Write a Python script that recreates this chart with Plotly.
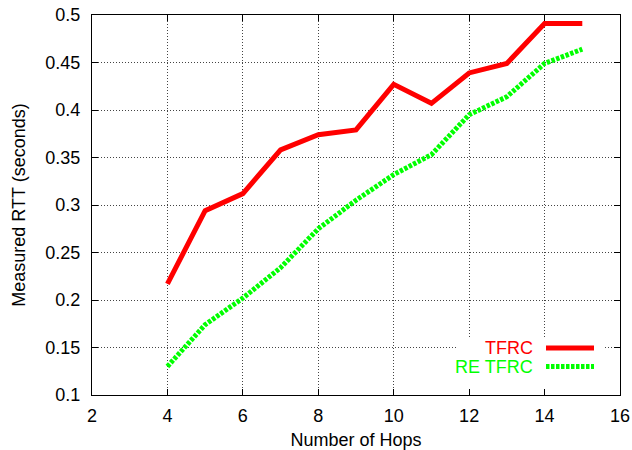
import plotly.graph_objects as go

# Measured round-trip time versus path length
hops = [4, 5, 6, 7, 8, 9, 10, 11, 12, 13, 14, 15]
tfrc = [0.217, 0.294, 0.312, 0.358, 0.374, 0.379, 0.427, 0.407, 0.439, 0.449, 0.491, 0.491]
re_tfrc = [0.130, 0.174, 0.202, 0.234, 0.275, 0.305, 0.332, 0.353, 0.395, 0.414, 0.449, 0.464]

x_ticks = [2, 4, 6, 8, 10, 12, 14, 16]
y_ticks = [0.1, 0.15, 0.2, 0.25, 0.3, 0.35, 0.4, 0.45, 0.5]
y_labels = ["0.1", "0.15", "0.2", "0.25", "0.3", "0.35", "0.4", "0.45", "0.5"]

RED = "#ff0000"
GREEN = "#00ff00"
FONT = "Liberation Sans, Arial, sans-serif"
FS = 18
GREEN_DASH = "3.5px,1.5px"

# plot-area geometry in pixels
L, R, T, B = 92, 620, 15, 395
W, H = 632, 450


def px(x):
    return (x - L) / (R - L)


def py(y):
    return (B - y) / (B - T)


fig = go.Figure()
fig.add_trace(go.Scatter(x=hops, y=tfrc, mode="lines", name="TFRC",
                         line=dict(color=RED, width=5), showlegend=False))
fig.add_trace(go.Scatter(x=hops, y=re_tfrc, mode="lines", name="RE TFRC",
                         line=dict(color=GREEN, width=5, dash=GREEN_DASH), showlegend=False))

axis_common = dict(
    showline=True, linecolor="black", linewidth=1, mirror="allticks",
    ticks="inside", ticklen=6, tickcolor="black", tickwidth=1,
    showgrid=True, gridcolor="#444444", gridwidth=1, griddash="1px,2px",
    zeroline=False, automargin=False,
    tickfont=dict(family=FONT, size=FS, color="black"),
)

fig.update_xaxes(range=[2, 16], tickvals=x_ticks, ticklabelstandoff=4,
                 title=dict(text="Number of Hops", font=dict(family=FONT, size=FS, color="black"), standoff=10),
                 **axis_common)
fig.update_yaxes(range=[0.1, 0.5], tickvals=y_ticks, ticktext=y_labels, ticklabelstandoff=7,
                 title=dict(text="Measured RTT (seconds)", font=dict(family=FONT, size=FS, color="black"), standoff=15),
                 **axis_common)

# Key in the lower right, gnuplot style (label, then line sample)
fig.add_shape(type="rect", xref="paper", yref="paper",
              x0=px(458), x1=px(603), y0=py(388), y1=py(338),
              fillcolor="white", line=dict(width=0), layer="above")
for label, color, dash, ypix in [("TFRC", RED, "solid", 348), ("RE TFRC", GREEN, GREEN_DASH, 366.5)]:
    fig.add_annotation(xref="paper", yref="paper", x=px(535), y=py(ypix),
                       text=label, showarrow=False, xanchor="right", yanchor="middle",
                       font=dict(family=FONT, size=FS, color=color))
    fig.add_shape(type="line", xref="paper", yref="paper",
                  x0=px(546), x1=px(594), y0=py(ypix), y1=py(ypix),
                  line=dict(color=color, width=5, dash=dash), layer="above")

fig.update_layout(
    template="none",
    width=W, height=H,
    margin=dict(l=L, r=W - R, t=T, b=H - B, pad=0),
    paper_bgcolor="white", plot_bgcolor="white",
    font=dict(family=FONT, size=FS, color="black"),
    showlegend=False,
)

fig.write_html("out.html")
